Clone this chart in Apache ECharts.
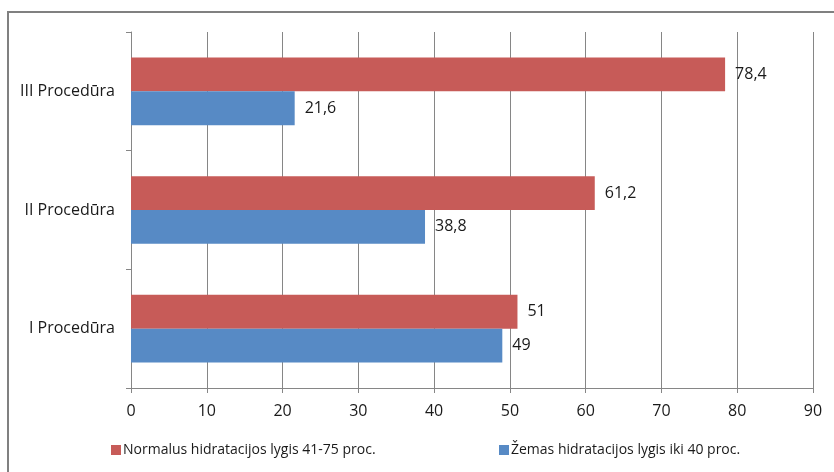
<!DOCTYPE html>
<html>
<head>
<meta charset="utf-8">
<script src="https://cdn.jsdelivr.net/npm/echarts@6/dist/echarts.min.js"></script>
<style>
  html, body { margin: 0; padding: 0; background: #fff; }
  #chart { width: 834px; height: 472px; }
</style>
</head>
<body>
<div id="chart"></div>
<script>
// Procedures (bottom to top on the category axis)
const categories = ['I Procedūra', 'II Procedūra', 'III Procedūra'];
// Share of participants, %
const normalName = 'Normalus hidratacijos lygis 41-75 proc.';
const normalValues = [51, 61.2, 78.4];
const lowName = 'Žemas hidratacijos lygis iki 40 proc.';
const lowValues = [49, 38.8, 21.6];
const xTicks = { min: 0, max: 90, interval: 10 };

const FONT = '"Open Sans", "Noto Sans", sans-serif';
const RED = '#C75B58';
const BLUE = '#578AC5';

const fmt = v => String(v).replace('.', ',');

const chart = echarts.init(document.getElementById('chart'), null, { renderer: 'canvas' });

const labelStyle = {
  show: true,
  position: 'right',
  distance: 10,
  fontFamily: FONT,
  fontSize: 16,
  color: '#1a1a1a',
  formatter: p => fmt(p.value)
};

chart.setOption({
  animation: false,
  backgroundColor: '#ffffff',
  graphic: [{
    type: 'rect',
    shape: { x: 8, y: 12, width: 840, height: 480 },
    style: { fill: 'none', stroke: '#808080', lineWidth: 2 },
    silent: true
  }],
  grid: { left: 131, right: 21, top: 32, bottom: 84, containLabel: false },
  legend: [{
    data: [normalName],
    left: 106, top: 438,
    itemWidth: 10, itemHeight: 10, itemGap: 0,
    icon: 'rect',
    textStyle: { fontFamily: FONT, fontSize: 14, color: '#1a1a1a', padding: [0, 0, 0, -3] }
  }, {
    data: [lowName],
    left: 494, top: 438,
    itemWidth: 10, itemHeight: 10, itemGap: 0,
    icon: 'rect',
    textStyle: { fontFamily: FONT, fontSize: 14, color: '#1a1a1a', padding: [0, 0, 0, -3] }
  }],
  xAxis: {
    type: 'value',
    min: xTicks.min, max: xTicks.max, interval: xTicks.interval,
    axisLine: { show: true, lineStyle: { color: '#868686', width: 1 } },
    axisTick: { show: true, length: 5, lineStyle: { color: '#868686' } },
    axisLabel: { fontFamily: FONT, fontSize: 16, color: '#1a1a1a', margin: 15, formatter: v => fmt(v) },
    splitLine: { show: true, lineStyle: { color: '#868686', width: 1 } }
  },
  yAxis: {
    type: 'category',
    data: categories,
    axisLine: { show: true, lineStyle: { color: '#868686', width: 1 } },
    axisTick: { show: true, length: 5, lineStyle: { color: '#868686' } },
    axisLabel: { fontFamily: FONT, fontSize: 16, color: '#1a1a1a', margin: 16 },
    splitLine: { show: false }
  },
  series: [{
    name: normalName,
    type: 'bar',
    data: normalValues,
    itemStyle: { color: RED },
    barGap: '0%',
    barCategoryGap: '43%',
    label: labelStyle
  }, {
    name: lowName,
    type: 'bar',
    data: lowValues,
    itemStyle: { color: BLUE },
    barGap: '0%',
    barCategoryGap: '43%',
    label: labelStyle
  }]
});
</script>
</body>
</html>
